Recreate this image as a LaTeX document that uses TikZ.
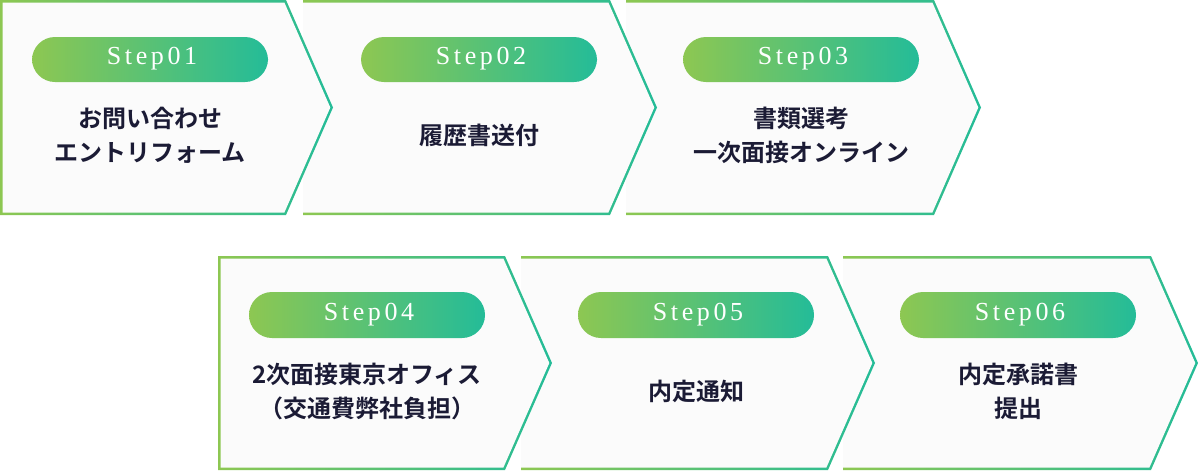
\documentclass[tikz,border=0pt]{standalone}
\usepackage{fontspec}
\setmainfont{Liberation Serif}
\newfontfamily\jp{Noto Sans CJK JP Bold}
\definecolor{gA}{HTML}{8DC752}
\definecolor{gB}{HTML}{24BC98}
\definecolor{txt}{HTML}{1B1B35}
\definecolor{bodyfill}{HTML}{FBFBFB}
\tikzset{
  pill/.style={rounded corners=23pt, left color=gA, right color=gB, draw=none},
  steplbl/.style={text=white, font=\fontsize{26}{26}\selectfont\addfontfeatures{LetterSpace=14}},
  jptxt/.style={text=txt, font=\jp\fontsize{24}{34}\selectfont, align=center},
}
\newcommand\stepshape[5]{%
  \pgfmathsetmacro\ym{(#3+#4)/2}
  \pgfmathsetmacro\xt{#2+47}
  \shade[left color=gA, right color=gB] (#1,#3) -- (#2,#3) -- (\xt,\ym) -- (#2,#4) -- (#1,#4) -- cycle;
  \fill[bodyfill] ({#1+#5},{#3+2.5}) -- ({#2-1.6},{#3+2.5}) -- ({\xt-2.7},\ym) -- ({#2-1.6},{#4-2.5}) -- ({#1+#5},{#4-2.5}) -- cycle;
}
\begin{document}
\begin{tikzpicture}[x=1pt,y=-1pt]
\useasboundingbox (0,0) rectangle (1199,472);
\stepshape{626}{934}{0}{215}{0}
\stepshape{303}{610}{0}{215}{0}
\stepshape{0}{286}{0}{215}{2.5}
\stepshape{843}{1151}{256}{470}{0}
\stepshape{521}{828}{256}{470}{0}
\stepshape{218}{505}{256}{470}{2.5}
\shade[pill] (32,37) rectangle (268,82);
\shade[pill] (361,37) rectangle (597,82);
\shade[pill] (683,37) rectangle (919,82);
\shade[pill] (249,292) rectangle (485,338);
\shade[pill] (578,292) rectangle (814,338);
\shade[pill] (900,292) rectangle (1136,338);
\node[steplbl] (s1) at (152,59) {Step01};
\node[steplbl] (s2) at (481,59) {Step02};
\node[steplbl] (s3) at (803,59) {Step03};
\node[steplbl] (s4) at (369,315) {Step04};
\node[steplbl] (s5) at (698,315) {Step05};
\node[steplbl] (s6) at (1020,315) {Step06};
\node[jptxt] (t1) at (150,135) {お問い合わせ\\エントリフォーム};
\node[jptxt] (t2) at (479,135) {履歴書送付};
\node[jptxt] (t3) at (801,135) {書類選考\\一次面接オンライン};
\node[jptxt] (t4) at (367,391) {2次面接東京オフィス\\（交通費弊社負担）};
\node[jptxt] (t5) at (696,391) {内定通知};
\node[jptxt] (t6) at (1018,391) {内定承諾書\\提出};
\end{tikzpicture}
\end{document}
